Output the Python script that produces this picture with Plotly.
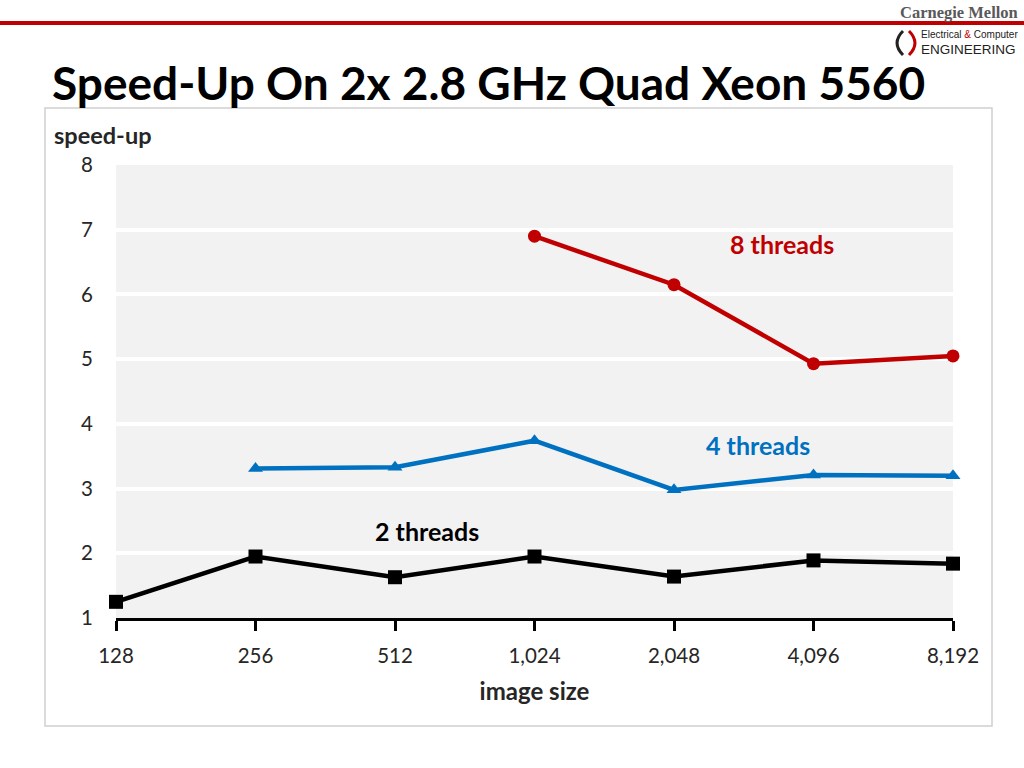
import plotly.graph_objects as go

# ---- data ----
image_sizes = ["128", "256", "512", "1,024", "2,048", "4,096", "8,192"]
threads8 = [None, None, None, 6.90, 6.15, 4.93, 5.05]
threads4 = [None, 3.31, 3.33, 3.74, 2.98, 3.21, 3.20]
threads2 = [1.25, 1.95, 1.63, 1.95, 1.64, 1.89, 1.84]
y_ticks = [1, 2, 3, 4, 5, 6, 7, 8]

RED = "#c00000"
BLUE = "#0070c0"
BLACK = "#000000"
FONT = "Lato"

W, H = 1024, 768
def px(x):
    return x / W
def py(y):
    return 1 - y / H

fig = go.Figure()
fig.add_trace(go.Scatter(x=image_sizes, y=threads2, mode="lines+markers",
                         line=dict(color=BLACK, width=4.5),
                         marker=dict(symbol="square", size=14, color=BLACK),
                         cliponaxis=False, name="2 threads"))
fig.add_trace(go.Scatter(x=image_sizes, y=threads4, mode="lines+markers",
                         line=dict(color=BLUE, width=4.5),
                         marker=dict(symbol="triangle-up", size=13, color=BLUE),
                         cliponaxis=False, name="4 threads"))
fig.add_trace(go.Scatter(x=image_sizes, y=threads8, mode="lines+markers",
                         line=dict(color=RED, width=4.5),
                         marker=dict(symbol="circle", size=13, color=RED),
                         cliponaxis=False, name="8 threads"))

fig.update_layout(
    width=W, height=H, autosize=False,
    margin=dict(l=0, r=0, t=0, b=0, autoexpand=False),
    paper_bgcolor="white", plot_bgcolor="#f2f2f2",
    showlegend=False,
    font=dict(family=FONT, color="#262626"),
    xaxis=dict(domain=[px(116), px(953)], type="category", automargin=False,
               categoryorder="array", categoryarray=image_sizes,
               range=[0, 6], showgrid=False, zeroline=False,
               showline=True, linecolor=BLACK, linewidth=3,
               ticks="outside", ticklen=10, tickwidth=3, tickcolor=BLACK,
               tickfont=dict(size=20.5, family=FONT, color="#262626"),
               ticklabelstandoff=7,
               title=dict(text="<b>image size</b>", font=dict(size=24, family=FONT, color="#262626"), standoff=18)),
    yaxis=dict(domain=[py(618), py(165)], range=[1, 8], tickvals=y_ticks, automargin=False,
               showgrid=True, gridcolor="white", gridwidth=4,
               zeroline=False, showline=False, ticks="",
               tickfont=dict(size=20.5, family=FONT, color="#262626"),
               ticklabelstandoff=22),
)

# slide decorations
fig.add_shape(type="line", xref="paper", yref="paper", x0=0, x1=1,
              y0=py(23), y1=py(23), line=dict(color=RED, width=4))
fig.add_shape(type="rect", xref="paper", yref="paper",
              x0=px(45), x1=px(992), y0=py(726), y1=py(108),
              line=dict(color="#d0d0d0", width=1.5), layer="below")
# logo arcs
fig.add_shape(type="path", xref="paper", yref="paper",
              path=f"M {px(903)} {py(31)} Q {px(891)} {py(43)} {px(903)} {py(55)}",
              line=dict(color="#222222", width=3))
fig.add_shape(type="path", xref="paper", yref="paper",
              path=f"M {px(909)} {py(31)} Q {px(921)} {py(43)} {px(909)} {py(55)}",
              line=dict(color=RED, width=3))

ann = [
    dict(x=px(1019), y=py(12), text="<b>Carnegie Mellon</b>", xanchor="right",
         font=dict(family="Liberation Serif", size=16.5, color="#595959")),
    dict(x=px(920), y=py(35),
         text="Electrical <span style='color:#c00000'>&amp;</span> Computer",
         xanchor="left", font=dict(family="Liberation Sans", size=10, color="#222222")),
    dict(x=px(920), y=py(49), text="ENGINEERING",
         xanchor="left", font=dict(family="Liberation Sans", size=13.5, color="#222222")),
    dict(x=px(51), y=py(82), text="<b>Speed-Up On 2x 2.8 GHz Quad Xeon 5560</b>", xanchor="left",
         font=dict(family=FONT, size=46, color="black")),
    dict(x=px(53), y=py(135), text="<b>speed-up</b>", xanchor="left",
         font=dict(family=FONT, size=23.5, color="#262626")),
]
for a in ann:
    fig.add_annotation(xref="paper", yref="paper", yanchor="middle", showarrow=False, borderpad=0, **a)

fig.add_annotation(x=image_sizes.index("4,096"), y=6.78, xref="x", yref="y", text="<b>8 threads</b>",
                   showarrow=False, xshift=-32, font=dict(family=FONT, size=25, color=RED))
fig.add_annotation(x=image_sizes.index("4,096"), y=3.68, xref="x", yref="y", text="<b>4 threads</b>",
                   showarrow=False, xshift=-56, font=dict(family=FONT, size=25, color=BLUE))
fig.add_annotation(x=image_sizes.index("512"), y=2.35, xref="x", yref="y", text="<b>2 threads</b>",
                   showarrow=False, xshift=32, font=dict(family=FONT, size=25, color=BLACK))

fig.write_html("out.html", config={"displayModeBar": False},
               post_script="document.body.style.margin='0';document.body.style.overflow='hidden';")
